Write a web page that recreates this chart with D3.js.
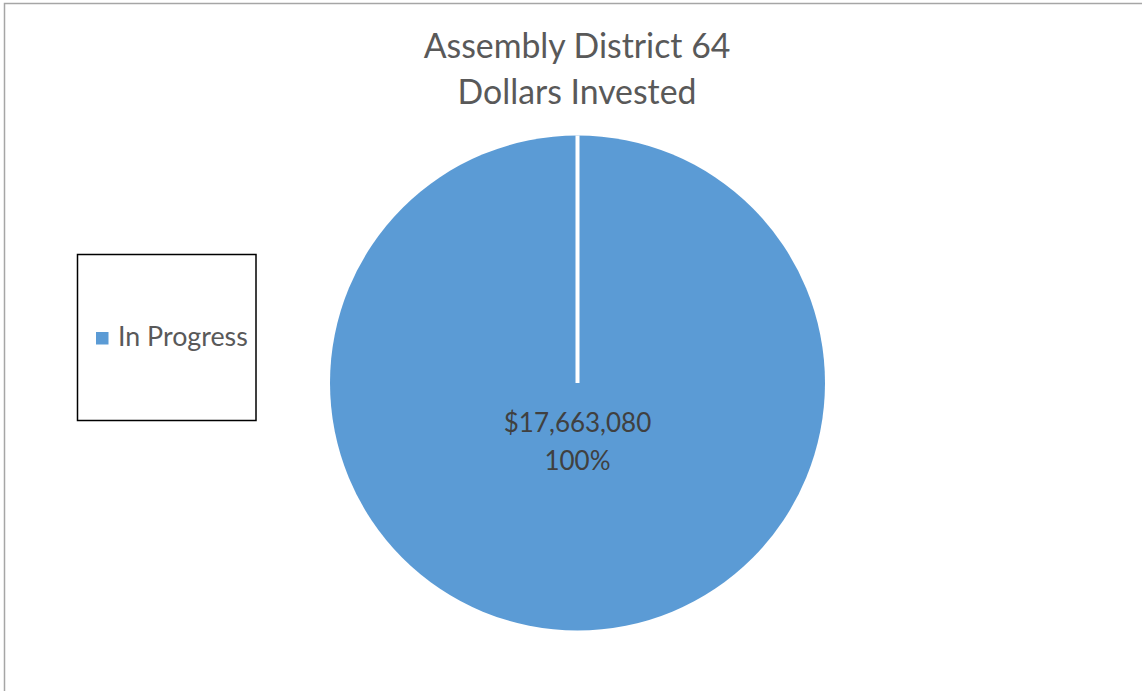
<!DOCTYPE html>
<html><head><meta charset="utf-8">
<script src="https://cdn.jsdelivr.net/npm/d3@7"></script>
<style>html,body{margin:0;padding:0;background:#fff;}svg{display:block;}</style>
</head><body>
<script>
const titleLines = ["Assembly District 64", "Dollars Invested"];
const categories = ["In Progress"];
const values = [17663080];
const colors = ["#5B9BD5"];

const W = 1142, H = 691;
const svg = d3.select("body").append("svg").attr("width", W).attr("height", H);
const font = "Lato, 'Open Sans', sans-serif";

// chart border
svg.append("rect").attr("x", 4.5).attr("y", 3.5).attr("width", W + 10).attr("height", H + 10)
  .attr("fill", "#fff").attr("stroke", "#A6A6A6").attr("stroke-width", 1.5);

// title
svg.append("text").attr("x", 577).attr("text-anchor", "middle")
  .attr("font-family", font).attr("font-size", 33.8).attr("fill", "#595959")
  .selectAll("tspan").data(titleLines).join("tspan")
  .attr("x", 577).attr("y", (d, i) => 58 + i * 46).text(d => d);

// pie
const cx = 577.5, cy = 383, r = 247.5;
const total = d3.sum(values);
const pie = d3.pie().sort(null).value(d => d.v);
const arcs = pie(categories.map((c, i) => ({c, v: values[i], color: colors[i]})));
const arc = d3.arc().innerRadius(0).outerRadius(r);
const g = svg.append("g").attr("transform", `translate(${cx},${cy})`);
g.selectAll("path").data(arcs).join("path")
  .attr("d", arc).attr("fill", d => d.data.color);
// slice borders (white separator from center along slice start edges)
g.selectAll("line.sep").data(arcs).join("line").attr("class", "sep")
  .attr("x1", 0).attr("y1", 0)
  .attr("x2", d => r * Math.sin(d.startAngle)).attr("y2", d => -r * Math.cos(d.startAngle))
  .attr("stroke", "#fff").attr("stroke-width", 4);

// data labels
const fmt = d3.format("$,");
const pfmt = d3.format(".0%");
arcs.forEach(d => {
  const t = g.append("text").attr("text-anchor", "middle")
    .attr("font-family", font).attr("font-size", 26).attr("fill", "#404040");
  t.append("tspan").attr("x", 0).attr("y", 432 - cy).text(fmt(d.data.v));
  t.append("tspan").attr("x", 0).attr("y", 470 - cy).text(pfmt(d.data.v / total));
});

// legend
const lg = svg.append("g");
lg.append("rect").attr("x", 77.5).attr("y", 254.5).attr("width", 178.5).attr("height", 166)
  .attr("fill", "#fff").attr("stroke", "#000").attr("stroke-width", 1.5);
const items = lg.selectAll("g.item").data(categories).join("g").attr("class", "item");
items.append("rect").attr("x", 96).attr("y", (d, i) => 332 + i * 30).attr("width", 12.5).attr("height", 12.5)
  .attr("fill", (d, i) => colors[i]);
items.append("text").attr("x", 118).attr("y", (d, i) => 346 + i * 30)
  .attr("font-family", font).attr("font-size", 26.8).attr("fill", "#595959").text(d => d);
</script>
</body></html>
